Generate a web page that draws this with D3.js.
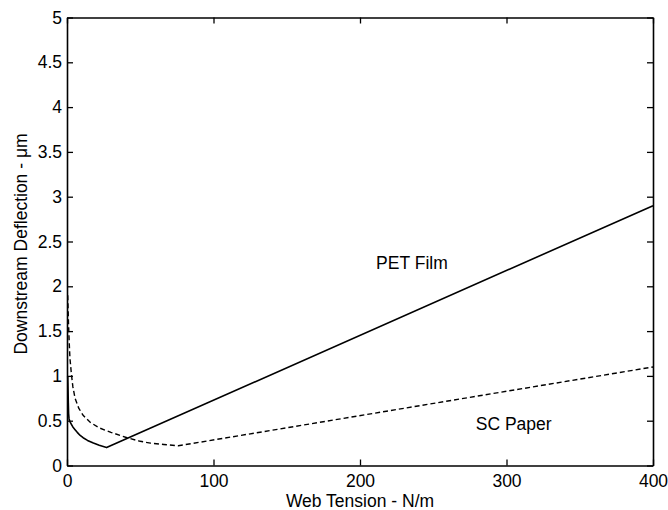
<!DOCTYPE html>
<html>
<head>
<meta charset="utf-8">
<script src="https://cdn.jsdelivr.net/npm/d3@7"></script>
<style>
  body { margin: 0; background: #fff; }
  text { font-family: "Liberation Sans", Arial, sans-serif; fill: #000; }
</style>
</head>
<body>
<div id="chart"></div>
<script>
// tension (N/m) vs downstream deflection (um)
var petTension = [0.5, 0.7, 0.9, 1.1, 1.4, 2, 3, 4, 5.5, 7, 9, 11, 14, 18, 22, 27, 400]
var petDeflection = [1.0, 0.85, 0.7, 0.58, 0.52, 0.49, 0.46, 0.43, 0.4, 0.37, 0.335, 0.31, 0.28, 0.25, 0.225, 0.2, 2.9]

var scTension = [0.5, 1, 1.5, 2, 3, 4, 5.5, 8, 11, 16, 22, 30, 41, 50, 57, 66, 76, 400]
var scDeflection = [1.9, 1.6, 1.38, 1.2, 1.02, 0.88, 0.75, 0.64, 0.56, 0.48, 0.42, 0.37, 0.31, 0.27, 0.25, 0.235, 0.22, 1.1]

var xTicks = [0, 100, 200, 300, 400]
var yTicks = [0, 0.5, 1, 1.5, 2, 2.5, 3, 3.5, 4, 4.5, 5]

var width = 668, height = 510
var margin = {top: 17.5, right: 15, bottom: 44.5, left: 67}
var w = width - margin.left - margin.right
var h = height - margin.top - margin.bottom

var svg = d3.select('#chart').append('svg')
  .attr('width', width)
  .attr('height', height)

var g = svg.append('g')
  .attr('transform', 'translate(' + margin.left + ',' + margin.top + ')')

var x = d3.scaleLinear().domain([0, 400]).range([0, w])
var y = d3.scaleLinear().domain([0, 5]).range([h, 0])

var fmt = function(d) { return d3.format('~g')(d) }

// axes, ticks pointing inward like matlab
g.append('g')
  .attr('transform', 'translate(0,' + h + ')')
  .call(d3.axisBottom(x).tickValues(xTicks).tickFormat(fmt).tickSizeInner(-6).tickSizeOuter(0).tickPadding(9))
g.append('g')
  .call(d3.axisTop(x).tickValues(xTicks).tickFormat('').tickSizeInner(-6).tickSizeOuter(0))
g.append('g')
  .call(d3.axisLeft(y).tickValues(yTicks).tickFormat(fmt).tickSizeInner(-6).tickSizeOuter(0).tickPadding(5))
g.append('g')
  .attr('transform', 'translate(' + w + ',0)')
  .call(d3.axisRight(y).tickValues(yTicks).tickFormat('').tickSizeInner(-6).tickSizeOuter(0))

g.selectAll('.domain').attr('stroke', '#000').attr('stroke-width', 1.6)
g.selectAll('.tick line').attr('stroke', '#000').attr('stroke-width', 1.3)
g.selectAll('.tick text').attr('font-size', '17.5px')
  .attr('font-family', '"Liberation Sans", Arial, sans-serif').attr('fill', '#000')

var line = d3.line()
  .x(function(d) { return x(d[0]) })
  .y(function(d) { return y(d[1]) })

g.append('path')
  .datum(d3.zip(petTension, petDeflection))
  .attr('fill', 'none')
  .attr('stroke', '#000')
  .attr('stroke-width', 1.6)
  .attr('stroke-linejoin', 'round')
  .attr('d', line)

g.append('path')
  .datum(d3.zip(scTension, scDeflection))
  .attr('fill', 'none')
  .attr('stroke', '#000')
  .attr('stroke-width', 1.4)
  .attr('stroke-dasharray', '5,3')
  .attr('d', line)

// labels
g.append('text')
  .attr('x', x(211)).attr('y', y(2.19))
  .attr('font-size', '17.5px')
  .text('PET Film')

g.append('text')
  .attr('x', x(279)).attr('y', y(0.4))
  .attr('font-size', '17.5px')
  .text('SC Paper')

svg.append('text')
  .attr('x', margin.left + w / 2)
  .attr('y', 507)
  .attr('text-anchor', 'middle')
  .attr('font-size', '17.5px')
  .text('Web Tension - N/m')

svg.append('text')
  .attr('transform', 'translate(27,' + 244 + ') rotate(-90)')
  .attr('text-anchor', 'middle')
  .attr('font-size', '17.5px')
  .text('Downstream Deflection - \u03bcm')
</script>
</body>
</html>
